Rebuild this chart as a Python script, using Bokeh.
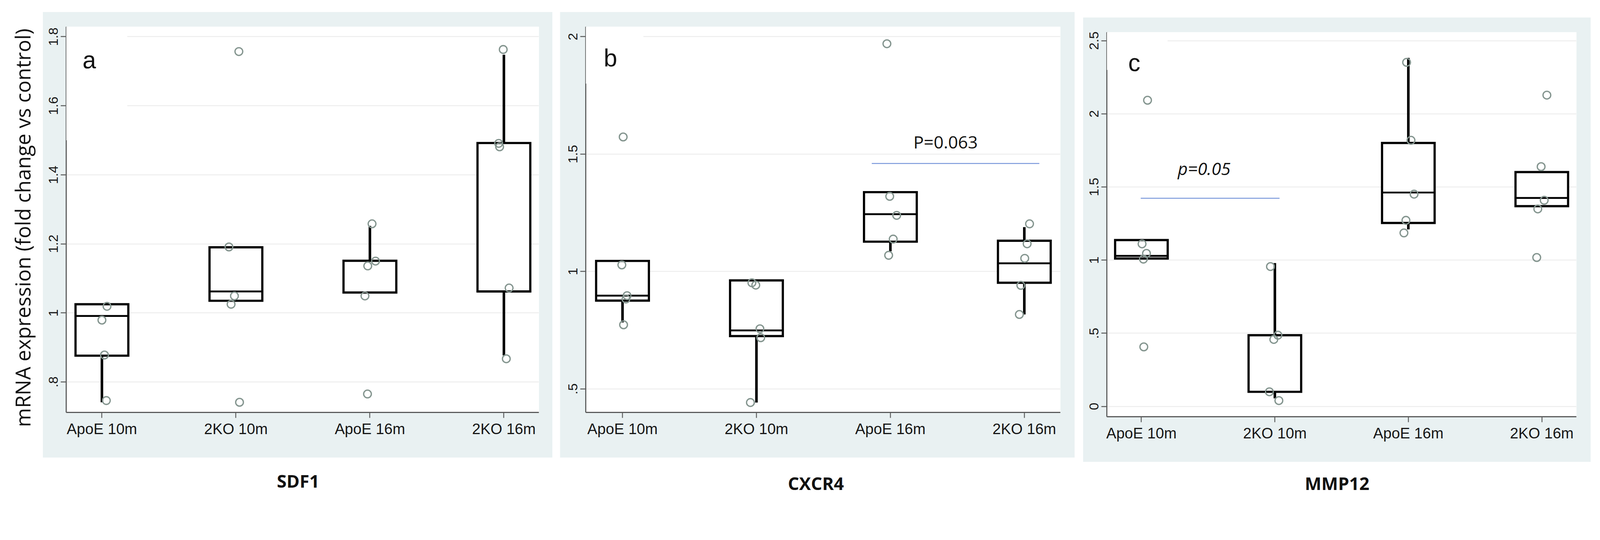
import numpy as np
from bokeh.plotting import figure
from bokeh.layouts import row, column
from bokeh.models import (Range1d, FixedTicker, CustomJSTickFormatter, Label,
                          BoxAnnotation)
from bokeh.embed import file_html
from bokeh.resources import INLINE
from bokeh.core.properties import value

# ---------------- data ----------------
GROUPS = ["ApoE 10m", "2KO 10m", "ApoE 16m", "2KO 16m"]

# SDF1
SDF1_Q1 = [0.876, 1.035, 1.059, 1.062]
SDF1_MED = [0.991, 1.062, 1.151, 1.062]
SDF1_Q3 = [1.025, 1.190, 1.151, 1.492]
SDF1_WLO = [0.741, 1.035, 1.059, 0.877]
SDF1_WHI = [1.025, 1.190, 1.252, 1.748]
SDF1_PTS = [[1.521, 1.019, 0.979, 0.878, 0.746],
            [1.757, 1.191, 1.049, 1.025, 0.741],
            [1.258, 1.150, 1.136, 1.049, 0.765],
            [1.763, 1.491, 1.481, 1.072, 0.867]]
SDF1_JIT = [[0.011, 0.038, 0.000, 0.019, 0.033],
            [0.022, -0.052, -0.011, -0.036, 0.027],
            [0.016, 0.042, -0.016, -0.037, -0.018],
            [-0.005, -0.039, -0.032, 0.039, 0.018]]
SDF1_YTICKS = [0.8, 1.0, 1.2, 1.4, 1.6, 1.8]

# CXCR4
CXCR4_Q1 = [0.876, 0.725, 1.127, 0.952]
CXCR4_MED = [0.897, 0.749, 1.244, 1.035]
CXCR4_Q3 = [1.045, 0.962, 1.338, 1.131]
CXCR4_WLO = [0.783, 0.442, 1.086, 0.817]
CXCR4_WHI = [1.045, 0.962, 1.338, 1.189]
CXCR4_PTS = [[1.573, 1.028, 0.897, 0.883, 0.773],
             [0.952, 0.942, 0.756, 0.718, 0.442],
             [1.970, 1.320, 1.239, 1.138, 1.069],
             [1.203, 1.118, 1.056, 0.941, 0.817]]
CXCR4_JIT = [[0.005, -0.005, 0.034, 0.026, 0.008],
             [-0.034, -0.005, 0.026, 0.032, -0.045],
             [-0.026, -0.005, 0.047, 0.021, -0.013],
             [0.039, 0.021, 0.003, -0.026, -0.037]]
CXCR4_YTICKS = [0.5, 1.0, 1.5, 2.0]
CXCR4_BRACKET = [2.861, 4.112, 1.46]
CXCR4_PTEXT = ["P=0.063", 3.412, 1.552]

# MMP12
MMP12_Q1 = [1.011, 0.100, 1.254, 1.369]
MMP12_MED = [1.029, 0.487, 1.462, 1.425]
MMP12_Q3 = [1.137, 0.487, 1.801, 1.602]
MMP12_WLO = [1.011, 0.055, 1.210, 1.369]
MMP12_WHI = [1.137, 0.980, 2.383, 1.602]
MMP12_PTS = [[2.093, 1.111, 1.046, 1.007, 0.407],
             [0.956, 0.487, 0.458, 0.100, 0.040],
             [2.352, 1.819, 1.451, 1.272, 1.186],
             [2.128, 1.639, 1.409, 1.350, 1.018]]
MMP12_JIT = [[0.046, 0.005, 0.038, 0.015, 0.018],
             [-0.033, 0.023, -0.008, -0.041, 0.030],
             [-0.013, 0.020, 0.043, -0.018, -0.033],
             [0.038, -0.005, 0.018, -0.030, -0.038]]
MMP12_YTICKS = [0.0, 0.5, 1.0, 1.5, 2.0, 2.5]
MMP12_BRACKET = [0.995, 2.035, 1.423]
MMP12_PTEXT = ["p=0.05", 1.47, 1.626]

Y_TITLE = "mRNA expression (fold change vs control)"
PANEL_TITLES = ["SDF1", "CXCR4", "MMP12"]

# ---------------- styles ----------------
S = 0.9416            # global size factor so the page fits the window
BG = "#e9f1f2"
AXIS_C = "#5a5b5b"
PT_C = "#84958f"
BLUE = "#6f8fd8"
TICK_FONT = "Liberation Sans"
HALF = 0.197
B_TOP, B_BOT = 40, 123   # plots in one row share their top / bottom borders


def px(v):
    return int(round(v * S))


def fs(v):
    return f"{v * S:.1f}px"


fmt = CustomJSTickFormatter(code="""
const s = String(Math.round(tick*100)/100);
return s.startsWith('0.') ? s.slice(1) : s;
""")


def make_panel(q1, med, q3, wlo, whi, pts, jit, yticks, xr, yr, width, height,
               lr, margin, letter, letter_xy, cover, bracket=None, ptext=None,
               italic=False):
    left, right = lr
    p = figure(width=px(width), height=px(height), output_backend="svg",
               toolbar_location=None, title=None,
               x_range=Range1d(*xr), y_range=Range1d(*yr),
               margin=tuple(px(m) for m in margin),
               min_border_left=px(left), min_border_right=px(right),
               min_border_top=px(B_TOP), min_border_bottom=px(B_BOT))
    p.background_fill_color = "white"
    p.border_fill_color = BG
    p.outline_line_color = None
    p.xgrid.visible = False
    yt = FixedTicker(ticks=yticks)
    p.yaxis.ticker = yt
    p.ygrid.ticker = yt
    p.ygrid.grid_line_color = "#eaeaea"
    p.ygrid.grid_line_width = 2 * S
    p.xaxis.ticker = FixedTicker(ticks=[1, 2, 3, 4])
    p.xaxis.major_label_overrides = {i + 1: g for i, g in enumerate(GROUPS)}
    p.yaxis.formatter = fmt
    for ax in (p.xaxis, p.yaxis):
        ax.axis_line_color = AXIS_C
        ax.axis_line_width = 3 * S
        ax.major_tick_line_color = AXIS_C
        ax.major_tick_line_width = 2.5 * S
        ax.major_tick_out = px(15)
        ax.major_tick_in = 0
        ax.minor_tick_out = 0
        ax.minor_tick_in = 0
        ax.major_label_text_font = TICK_FONT
        ax.major_label_text_color = "#161616"
    p.yaxis.major_label_orientation = "vertical"
    p.yaxis.major_label_text_font_size = fs(36)
    p.yaxis.major_label_standoff = px(7)
    p.xaxis.major_label_text_font_size = fs(41)
    p.xaxis.major_label_standoff = px(6)

    # white box behind the panel letter (hides gridlines there)
    p.add_layout(BoxAnnotation(left=xr[0], right=cover[0], bottom=cover[1], top=yr[1],
                               fill_color="white", fill_alpha=1.0, line_color=None))

    x = np.arange(1, len(GROUPS) + 1, dtype=float)
    # whiskers
    p.segment(x0=x, x1=x, y0=q3, y1=whi, line_color="black", line_width=7 * S)
    p.segment(x0=x, x1=x, y0=q1, y1=wlo, line_color="black", line_width=7 * S)
    # boxes
    p.quad(left=x - HALF, right=x + HALF, bottom=q1, top=q3, fill_color="white",
           line_color="black", line_width=6 * S, line_join="miter")
    # medians
    p.segment(x0=x - HALF, x1=x + HALF, y0=med, y1=med, line_color="black",
              line_width=5 * S)
    # points
    pxs = np.concatenate([x[i] + np.array(jit[i]) for i in range(len(GROUPS))])
    pys = np.concatenate([np.array(v, dtype=float) for v in pts])
    p.scatter(pxs, pys, marker="circle", size=21 * S, fill_color=None, line_color=PT_C,
              line_width=3.5 * S)

    if bracket is not None:
        p.segment(x0=[bracket[0]], x1=[bracket[1]], y0=[bracket[2]], y1=[bracket[2]],
                  line_color=BLUE, line_width=2.5 * S)
        p.text(x=[ptext[1]], y=[ptext[2]], text=[ptext[0]], text_align="center",
               text_baseline="middle", text_font=value("Open Sans"),
               text_font_size=fs(47), text_color="#111111",
               text_font_style="italic" if italic else "normal")

    p.add_layout(Label(x=letter_xy[0], y=letter_xy[1], text=letter, text_font=TICK_FONT,
                       text_font_size=fs(66), text_color="#111111", text_align="left",
                       text_baseline="alphabetic"))
    return p


pa = make_panel(SDF1_Q1, SDF1_MED, SDF1_Q3, SDF1_WLO, SDF1_WHI, SDF1_PTS, SDF1_JIT,
                SDF1_YTICKS, (0.7335, 4.261), (0.7116, 1.8288), 1386, 1212,
                (64, 37), (32, 0, 0, 0), "a", (0.855, 1.733), (1.189, 1.5))
pb = make_panel(CXCR4_Q1, CXCR4_MED, CXCR4_Q3, CXCR4_WLO, CXCR4_WHI, CXCR4_PTS, CXCR4_JIT,
                CXCR4_YTICKS, (0.7255, 4.269), (0.3998, 2.0423), 1400, 1212,
                (70, 39), (32, 0, 0, 20), "b", (0.860, 1.909), (1.156, 1.8),
                bracket=CXCR4_BRACKET, ptext=CXCR4_PTEXT)
pc = make_panel(MMP12_Q1, MMP12_MED, MMP12_Q3, MMP12_WLO, MMP12_WHI, MMP12_PTS, MMP12_JIT,
                MMP12_YTICKS, (0.741, 4.259), (-0.0704, 2.5578), 1381, 1209,
                (65, 39), (47, 0, 0, 22), "c", (0.901, 2.349), (1.196, 2.3),
                bracket=MMP12_BRACKET, ptext=MMP12_PTEXT, italic=True)

# y-axis title strip: the title is the label of an otherwise empty axis,
# centred on this strip's frame
yt_fig = figure(width=px(116), height=px(1191), output_backend="svg",
                toolbar_location=None, title=None, margin=(px(65), 0, 0, 0),
                x_range=Range1d(0, 1), y_range=Range1d(0, 1),
                x_axis_location=None, y_axis_location="left",
                min_border_left=px(100), min_border_right=0,
                min_border_top=px(B_TOP), min_border_bottom=px(B_BOT))
yt_fig.outline_line_color = None
yt_fig.grid.visible = False
yt_fig.yaxis.ticker = FixedTicker(ticks=[])
yt_fig.yaxis.axis_line_color = None
yt_fig.yaxis.major_tick_out = 0
yt_fig.yaxis.major_tick_in = 0
yt_fig.yaxis.minor_tick_out = 0
yt_fig.yaxis.minor_tick_in = 0
yt_fig.yaxis.major_label_standoff = 0
yt_fig.yaxis.axis_label = Y_TITLE
yt_fig.yaxis.axis_label_text_font = "Open Sans"
yt_fig.yaxis.axis_label_text_font_style = "normal"
yt_fig.yaxis.axis_label_text_font_size = fs(56)
yt_fig.yaxis.axis_label_text_color = "#111111"
yt_fig.yaxis.axis_label_standoff = px(2)

# bottom titles strip (design page coordinates)
tt_fig = figure(width=px(4325), height=px(100), output_backend="svg",
                toolbar_location=None, title=None,
                x_range=Range1d(8, 4333), y_range=Range1d(1364, 1264),
                x_axis_location=None, y_axis_location=None, min_border=0)
tt_fig.outline_line_color = None
tt_fig.grid.visible = False
for name, tx, ty in zip(PANEL_TITLES, (818, 2226, 3643), (1315, 1321, 1321)):
    tt_fig.add_layout(Label(x=tx, y=ty, text=name, text_font="Open Sans",
                            text_font_style="bold", text_font_size=fs(48),
                            text_color="#111111", text_align="center",
                            text_baseline="middle"))

layout = column(row(yt_fig, pa, pb, pc), tt_fig)
open("out.html", "w").write(file_html(layout, INLINE))
